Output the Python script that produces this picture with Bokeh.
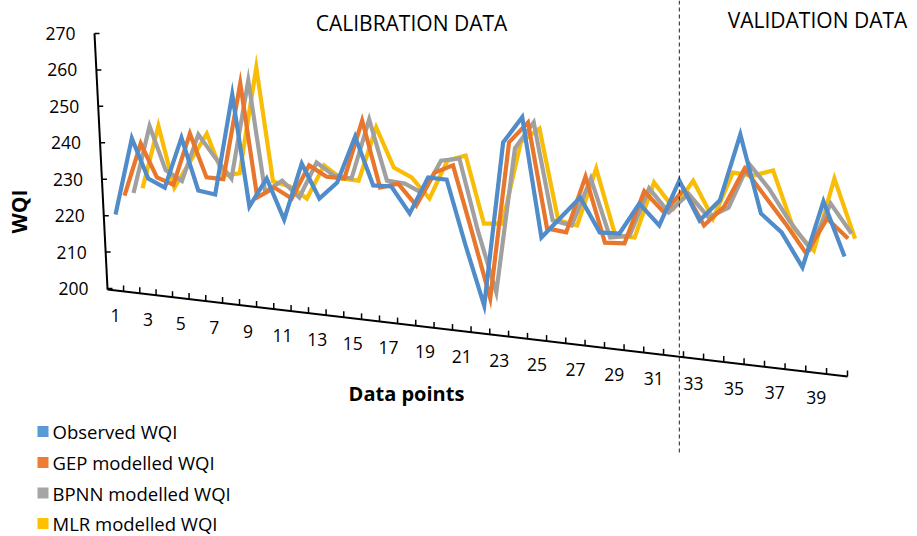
import numpy as np
from bokeh.plotting import figure
from bokeh.models import Range1d
from bokeh.embed import file_html
from bokeh.resources import INLINE
from bokeh.core.properties import value

# ------------------------------------------------------------------ data
points = list(range(1, 41))
observed = [220.3, 241.2, 230.2, 227.7, 241.4, 226.9, 225.8, 253.3, 222.5, 230.2,
            218.9, 234.3, 224.7, 229.1, 241.7, 228.3, 228.0, 220.6, 230.5, 229.9,
            212.0, 195.3, 240.1, 247.0, 214.0, 219.5, 225.0, 215.4, 215.1, 223.3,
            217.3, 229.6, 218.7, 224.2, 242.3, 220.6, 215.4, 205.8, 223.9, 208.8]
gep = [225.5, 239.8, 230.5, 228.5, 242.5, 230.5, 230.0, 256.3, 225.0, 227.7,
       224.7, 233.8, 230.7, 230.2, 246.1, 227.7, 228.8, 222.8, 231.8, 233.8,
       215.9, 197.3, 240.1, 245.6, 216.5, 215.4, 230.7, 212.6, 212.4, 226.7,
       220.9, 227.2, 217.3, 222.5, 232.9, 225.3, 217.8, 209.6, 219.2, 213.7]
bpnn = [226.2, 244.6, 232.5, 229.5, 242.3, 236.0, 230.2, 257.1, 226.5, 229.6,
        225.0, 234.6, 231.0, 230.2, 246.4, 229.6, 228.8, 226.1, 235.1, 235.7,
        216.0, 198.9, 238.5, 245.6, 218.7, 217.3, 230.2, 214.0, 214.5, 227.5,
        220.9, 226.0, 219.5, 222.2, 234.3, 227.4, 218.5, 211.0, 223.3, 215.1]
mlr = [227.5, 244.6, 227.7, 235.0, 242.5, 231.0, 231.6, 260.7, 229.4, 228.0,
       224.7, 233.8, 230.2, 229.6, 244.2, 233.2, 230.5, 224.7, 235.1, 236.5,
       217.8, 217.8, 240.2, 243.9, 218.7, 217.3, 232.9, 214.5, 214.0, 229.1,
       222.0, 229.6, 219.2, 231.8, 231.0, 232.4, 216.5, 210.4, 230.2, 213.7]
x_tick_labels = [str(n) for n in points if n % 2 == 1]
y_ticks = [200, 210, 220, 230, 240, 250, 260, 270]
n_calibration = 32
series_names = ["Observed WQI", "GEP modelled WQI", "BPNN modelled WQI", "MLR modelled WQI"]
legend_colors = ["#5B9BD5", "#ED7D31", "#A5A5A5", "#FFC000"]
line_colors = ["#4F8CC9", "#E8762D", "#A0A0A0", "#F9BD05"]

# ------------------------------------------------ oblique 3-D style geometry
W, H = 917, 536
V0, Y0, K = 200.0, 288.0, 3.643          # value 200 at screen y 288, px per WQI unit


def v_of(ys):
    return V0 + (Y0 - np.asarray(ys, dtype=float)) / K


n = len(points)
kk = np.arange(n + 1)
bx = 107 + 16.0 * kk + 0.0625 * kk ** 2          # category boundaries on the floor edge
cx = (bx[:-1] + bx[1:]) / 2                      # category centres
front_x = 115 + (cx - 115) * 1.0104              # front series row
idx = np.arange(n)
depth = 9.0 - 5.5 * idx / (n - 1)                # horizontal shift per depth row


def floor_v(x):
    return v_of(289 + (np.asarray(x, dtype=float) - 107) * 87.0 / 740.0)


def yaxis_x(v):
    return 107 - (np.asarray(v, dtype=float) - 200) * 13.0 / 70.0


p = figure(width=W, height=H, x_range=Range1d(0, W), y_range=Range1d(v_of(H), v_of(0)),
           x_axis_location=None, y_axis_location=None, toolbar_location=None,
           output_backend="svg", min_border=0)
p.outline_line_color = None
p.xgrid.visible = False
p.ygrid.visible = False
p.background_fill_color = "white"

FONT = value("Open Sans")

# series lines (back rows first)
series = [observed, gep, bpnn, mlr]
for s in reversed(range(4)):
    xs = front_x + s * depth
    p.line(xs, series[s], line_color=line_colors[s], line_width=4.2, line_join="miter")

# category axis along the floor edge
p.line([bx[0], bx[-1]], [floor_v(bx[0]), floor_v(bx[-1])], line_color="black", line_width=2)
tb = bx[1:]
p.segment(x0=tb, y0=floor_v(tb), x1=tb, y1=floor_v(tb) + 6 / K, line_color="black", line_width=1.5)
odd = np.array([i for i in range(n) if points[i] % 2 == 1])
p.text(x=cx[odd], y=floor_v(cx[odd]) - 25 / K, text=x_tick_labels, text_font=FONT,
       text_font_size="17.5px", text_align="center", text_baseline="middle", text_color="black")

# value axis (slightly tilted)
yv = np.array(y_ticks, dtype=float)
p.line([yaxis_x(199.7), yaxis_x(270)], [199.7, 270], line_color="black", line_width=2)
p.segment(x0=yaxis_x(yv), y0=yv, x1=yaxis_x(yv) + 5, y1=yv, line_color="black", line_width=1.5)
p.text(x=yaxis_x(yv) - 19, y=yv, text=[str(int(t)) for t in y_ticks], text_font=FONT,
       text_font_size="17.5px", text_align="right", text_baseline="middle", text_color="black")

# axis titles
p.text(x=[18], y=[v_of(211)], text=["WQI"], angle=np.pi / 2, text_font=FONT,
       text_font_size="21px", text_font_style="bold", text_align="center",
       text_baseline="middle", text_color="black")
p.text(x=[406], y=[v_of(393)], text=["Data points"], text_font=FONT,
       text_font_size="20px", text_font_style="bold", text_align="center",
       text_baseline="middle", text_color="black")

# calibration / validation split
split_x = front_x[n_calibration - 1]
p.line([split_x, split_x], [v_of(0), v_of(453)], line_color="#222222", line_width=1,
       line_dash="4 3")
p.text(x=[411, 817], y=[v_of(22), v_of(19)], text=["CALIBRATION DATA", "VALIDATION DATA"],
       text_font=FONT, text_font_size="21px", text_align="center", text_baseline="middle",
       text_color="black")

# legend
ly = v_of(np.array([431, 462, 492.5, 523]))
p.scatter(x=[42.5] * 4, y=ly, marker="square", size=11, fill_color=legend_colors,
          line_color=None)
p.text(x=[52] * 4, y=ly, text=series_names, text_font=FONT, text_font_size="18.5px",
       text_align="left", text_baseline="middle", text_color="black")

open("out.html", "w").write(file_html(p, INLINE))
